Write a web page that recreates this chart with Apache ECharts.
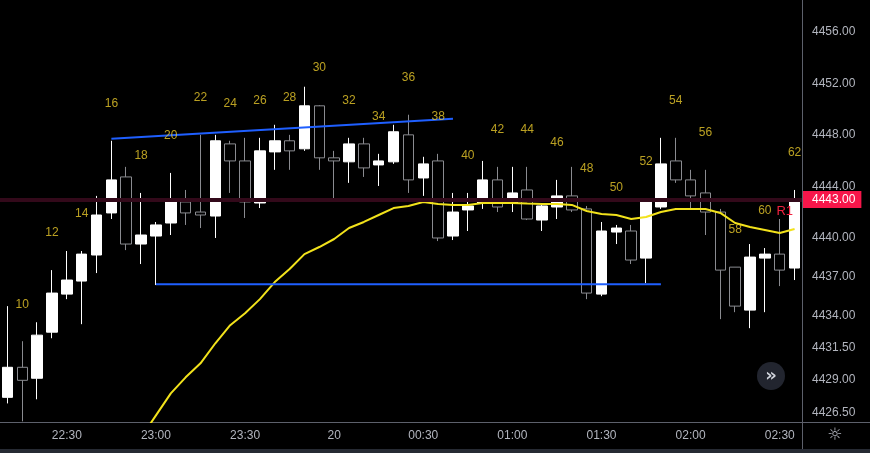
<!DOCTYPE html>
<html>
<head>
<meta charset="utf-8">
<script src="https://cdn.jsdelivr.net/npm/echarts@6/dist/echarts.min.js"></script>
<style>
	html, body { margin: 0; padding: 0; background: #000; }
	#main { width: 870px; height: 453px; }
</style>
</head>
<body>
<div id="main"></div>
<script>
// 5分钟K线, 第一根可见为第9根
var firstBar = 9;
var times = ['22:10', '22:15', '22:20', '22:25', '22:30', '22:35', '22:40', '22:45', '22:50', '22:55',
	'23:00', '23:05', '23:10', '23:15', '23:20', '23:25', '23:30', '23:35', '23:40', '23:45',
	'23:50', '23:55', '00:00', '00:05', '00:10', '00:15', '00:20', '00:25', '00:30', '00:35',
	'00:40', '00:45', '00:50', '00:55', '01:00', '01:05', '01:10', '01:15', '01:20', '01:25',
	'01:30', '01:35', '01:40', '01:45', '01:50', '01:55', '02:00', '02:05', '02:10', '02:15',
	'02:20', '02:25', '02:30', '02:35'];

var opens = [4427.66, 4429.99, 4429.14, 4432.71, 4435.66, 4436.67, 4438.69, 4441.95, 4444.74, 4439.54,
	4440.16, 4441.17, 4442.80, 4442.02, 4441.71, 4447.30, 4445.98, 4442.72, 4446.68, 4447.54,
	4446.92, 4450.25, 4446.22, 4445.91, 4447.30, 4445.67, 4445.91, 4448.00, 4444.66, 4445.98,
	4440.16, 4442.18, 4442.72, 4444.51, 4442.72, 4443.73, 4441.40, 4442.41, 4443.27, 4442.26,
	4435.66, 4440.47, 4440.55, 4438.45, 4442.41, 4445.98, 4444.51, 4443.50, 4442.02, 4437.75,
	4434.42, 4438.45, 4438.76, 4437.68];
var closes = [4429.99, 4428.98, 4432.48, 4435.74, 4436.75, 4438.76, 4441.79, 4444.51, 4439.54, 4440.24,
	4441.02, 4442.80, 4441.95, 4441.79, 4447.54, 4445.98, 4442.80, 4446.76, 4447.54, 4446.76,
	4450.25, 4446.22, 4445.98, 4447.30, 4445.44, 4445.98, 4448.24, 4444.51, 4445.75, 4440.01,
	4442.02, 4442.49, 4444.51, 4442.41, 4443.50, 4441.48, 4442.49, 4443.27, 4442.18, 4435.74,
	4440.55, 4440.78, 4438.30, 4442.80, 4445.75, 4444.51, 4443.27, 4442.02, 4437.52, 4434.73,
	4438.53, 4438.76, 4437.52, 4442.80];
var lows = [4427.19, 4425.80, 4427.51, 4432.24, 4435.27, 4433.33, 4437.29, 4441.48, 4439.07, 4437.99,
	4436.36, 4440.24, 4441.02, 4440.78, 4440.01, 4443.50, 4441.56, 4442.33, 4445.29, 4445.29,
	4446.76, 4445.29, 4442.80, 4444.28, 4444.74, 4444.04, 4445.75, 4443.50, 4443.27, 4439.77,
	4439.85, 4440.55, 4442.26, 4442.02, 4442.02, 4441.40, 4440.55, 4441.48, 4442.02, 4435.27,
	4435.50, 4439.54, 4437.99, 4436.51, 4442.26, 4444.28, 4442.26, 4440.24, 4433.72, 4434.26,
	4433.02, 4434.26, 4436.28, 4436.75];
var highs = [4434.73, 4432.01, 4433.48, 4437.52, 4439.00, 4439.00, 4443.27, 4447.54, 4445.52, 4443.50,
	4441.25, 4445.05, 4443.73, 4448.00, 4448.00, 4447.54, 4447.77, 4447.77, 4448.78, 4448.00,
	4451.73, 4450.30, 4446.76, 4447.77, 4447.77, 4446.53, 4448.78, 4449.56, 4446.30, 4446.53,
	4443.50, 4443.50, 4445.98, 4445.52, 4445.52, 4445.52, 4442.72, 4444.51, 4445.52, 4442.49,
	4441.25, 4441.02, 4441.02, 4443.03, 4447.77, 4447.77, 4445.29, 4445.29, 4442.26, 4437.75,
	4439.54, 4439.23, 4441.48, 4443.73];

// 均线 (前面的在图外)
var ma = [null, null, null, null, null, null, null, null, null, 4424.56,
	4426.26, 4427.97, 4429.21, 4430.30, 4431.85, 4433.25, 4434.18, 4435.27, 4436.59, 4437.60,
	4438.76, 4439.31, 4439.93, 4440.78, 4441.25, 4441.79, 4442.33, 4442.49, 4442.80, 4442.65,
	4442.57, 4442.57, 4442.72, 4442.72, 4442.72, 4442.68, 4442.65, 4442.65, 4442.57, 4442.10,
	4441.87, 4441.79, 4441.48, 4441.64, 4442.02, 4442.26, 4442.26, 4442.26, 4441.95, 4441.17,
	4440.86, 4440.63, 4440.39, 4440.70];

// 计数标签
var countBars = [10, 12, 14, 16, 18, 20, 22, 24, 26, 28, 30, 32, 34, 36, 38, 40, 42, 44, 46, 48, 50, 52, 54, 56, 58, 60, 62];

// 趋势线 [bar, price]
var upperLine = [[16, 4447.69], [39, 4449.25]];
var lowerLine = [[19, 4436.43], [53, 4436.43]];

var r1Price = 4443.00;
var priceTicks = [4456, 4452, 4448, 4444, 4440, 4437, 4434, 4431.5, 4429, 4426.5];

var candles = [];
for(var i = 0; i < times.length; i++) {
	candles.push([opens[i], closes[i], lows[i], highs[i]]);
}

var countData = [];
for(var j = 0; j < countBars.length; j++) {
	var k = countBars[j] - firstBar;
	countData.push({ value: [k, highs[k]], name: String(countBars[j]) });
}

function toLine(pts) {
	return pts.map(function(p) {
		return [p[0] - firstBar, p[1]];
	});
}

var gridColor = '#5d606b';
var textColor = '#b2b5be';
var font = 'Liberation Sans, Arial, sans-serif';

var myChart = echarts.init(document.getElementById('main'));

var option = {
	backgroundColor: '#000',
	animation: false,
	grid: { left: 0, right: 68, top: 0, bottom: 31 },
	xAxis: {
		type: 'category',
		data: times,
		boundaryGap: true,
		axisLine: { show: true, lineStyle: { color: gridColor, width: 1 } },
		axisTick: { show: false },
		splitLine: { show: false },
		axisLabel: {
			color: textColor,
			fontSize: 12,
			fontFamily: font,
			margin: 8,
			interval: function(index, value) {
				var m = value.split(':')[1];
				return m === '00' || m === '30';
			},
			formatter: function(value) {
				return value === '00:00' ? '20' : value;
			}
		}
	},
	yAxis: {
		type: 'value',
		position: 'right',
		min: 4425.75,
		max: 4458.45,
		interval: 0.25,
		scale: true,
		axisLine: { show: true, lineStyle: { color: gridColor, width: 1 } },
		axisTick: { show: false },
		splitLine: { show: false },
		axisLabel: {
			color: textColor,
			fontSize: 12,
			fontFamily: font,
			margin: 10,
			formatter: function(v) {
				for(var t = 0; t < priceTicks.length; t++) {
					if(Math.abs(priceTicks[t] - v) < 1e-6) {
						return v.toFixed(2);
					}
				}
				return '';
			}
		}
	},
	series: [{
		type: 'candlestick',
		data: candles,
		barWidth: 11,
		itemStyle: {
			color: '#ffffff',
			color0: '#000000',
			borderColor: '#ffffff',
			borderColor0: '#8a8b90',
			borderWidth: 1
		},
		markLine: {
			silent: true,
			symbol: ['none', 'none'],
			data: [{
				yAxis: r1Price,
				lineStyle: { color: '#33091a', width: 4, type: 'solid' },
				label: {
					show: true,
					position: 'insideEndBottom',
					distance: [9, 6],
					formatter: 'R1',
					color: '#f0213f',
					fontSize: 13,
					fontFamily: font
				}
			}, {
				yAxis: r1Price,
				lineStyle: { color: 'rgba(0,0,0,0)', width: 1 },
				label: {
					show: true,
					position: 'end',
					distance: 1,
					formatter: r1Price.toFixed(2),
					color: '#ffffff',
					backgroundColor: '#f7164a',
					fontSize: 12,
					fontFamily: font,
					lineHeight: 13,
					padding: [2, 6, 2, 9]
				}
			}]
		}
	}, {
		type: 'line',
		data: ma,
		symbol: 'none',
		smooth: false,
		connectNulls: false,
		lineStyle: { color: '#f2e21b', width: 2 },
		z: 3
	}, {
		type: 'line',
		data: toLine(upperLine),
		symbol: 'none',
		lineStyle: { color: '#1f5fff', width: 2 },
		z: 4
	}, {
		type: 'line',
		data: toLine(lowerLine),
		symbol: 'none',
		lineStyle: { color: '#1f5fff', width: 2 },
		z: 4
	}, {
		type: 'scatter',
		data: countData,
		symbolSize: 1,
		itemStyle: { color: 'rgba(0,0,0,0)' },
		label: {
			show: true,
			position: 'inside',
			offset: [0, -37],
			formatter: '{b}',
			color: '#e8c82a',
			fontSize: 12,
			fontFamily: font
		},
		z: 5
	}],
	graphic: [{
		type: 'line',
		shape: { x1: 802.5, y1: 422, x2: 802.5, y2: 449 },
		style: { stroke: gridColor, lineWidth: 1 }
	}, {
		type: 'line',
		shape: { x1: 802, y1: 422.5, x2: 870, y2: 422.5 },
		style: { stroke: gridColor, lineWidth: 1 }
	}, {
		type: 'rect',
		shape: { x: 0, y: 449, width: 870, height: 4 },
		style: { fill: '#262a33' }
	}, {
		type: 'circle',
		shape: { cx: 771, cy: 376, r: 14 },
		style: { fill: '#22252f' }
	}, {
		type: 'text',
		x: 771,
		y: 376,
		style: {
			text: '»',
			fill: '#d1d4dc',
			font: 'bold 18px DejaVu Sans',
			align: 'center',
			verticalAlign: 'middle'
		}
	}, {
		type: 'text',
		x: 835,
		y: 436,
		style: {
			text: '☼',
			fill: textColor,
			font: '17px DejaVu Sans',
			align: 'center',
			verticalAlign: 'middle'
		}
	}]
};

myChart.setOption(option);
</script>
</body>
</html>
